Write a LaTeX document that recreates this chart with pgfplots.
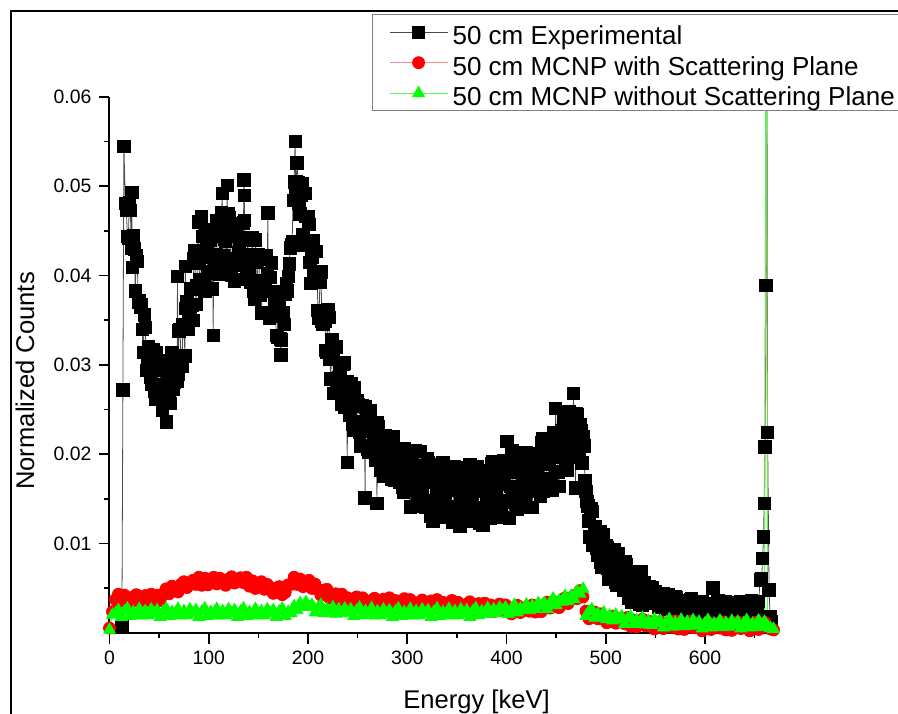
\documentclass[border=0pt]{standalone}
\usepackage{pgfplots}
\pgfplotsset{compat=1.18}
\usepackage{pgfplotstable}
\usepackage{fontspec}
\setmainfont{Liberation Sans}

\pgfplotstableread{
x y
12.5 0.0007
13.5 0.0272
14.5 0.0545
16 0.0481
17 0.0473
18 0.0444
19 0.0442
20 0.0482
21 0.0473
22 0.0431
22.5 0.0493
23 0.0409
24 0.0445
25 0.0430
26 0.0383
27 0.0422
28 0.0416
29 0.0370
30 0.0372
31 0.0365
32 0.0367
33 0.0340
34 0.0314
35 0.0356
36 0.0342
37 0.0294
38 0.0301
39 0.0320
40 0.0303
41 0.0286
42 0.0278
43 0.0300
44 0.0317
45 0.0270
46 0.0262
47 0.0314
48 0.0294
49 0.0272
50 0.0301
51 0.0296
52 0.0265
53 0.0249
54 0.0278
55 0.0297
56 0.0269
57 0.0273
57.5 0.0236
58 0.0305
59 0.0291
60 0.0259
61 0.0257
62 0.0298
63 0.0314
64 0.0273
65 0.0280
66 0.0300
67 0.0301
68 0.0282
68.5 0.0399
69 0.0289
70 0.0338
71 0.0340
72 0.0308
73 0.0298
74 0.0345
75 0.0344
76 0.0310
76.5 0.0410
77 0.0363
78 0.0371
79 0.0340
80 0.0356
81 0.0365
82 0.0385
83 0.0367
84 0.0350
85 0.0419
86 0.0428
87 0.0368
88 0.0389
89 0.0424
89.5 0.0460
90 0.0414
91 0.0396
92 0.0389
92.5 0.0466
93 0.0421
94 0.0444
95 0.0388
96 0.0382
97 0.0451
98 0.0429
99 0.0404
100 0.0443
101 0.0440
102 0.0403
103 0.0385
104 0.0424
104.5 0.0333
105 0.0452
106 0.0418
107 0.0423
108 0.0462
109 0.0444
110 0.0403
111 0.0401
112 0.0450
113 0.0470
113.5 0.0492
114 0.0417
115 0.0422
116 0.0441
117 0.0438
118 0.0407
118.5 0.0501
119 0.0412
120 0.0469
121 0.0465
122 0.0419
123 0.0400
124 0.0452
125 0.0444
126 0.0394
127 0.0455
128 0.0458
129 0.0412
130 0.0426
131 0.0429
132 0.0443
133 0.0419
134 0.0396
135 0.0459
135.5 0.0507
135.8 0.0490
136 0.0462
137 0.0396
138 0.0411
139 0.0440
140 0.0424
141 0.0403
142 0.0393
143 0.0422
144 0.0442
145 0.0383
146 0.0374
147 0.0440
148 0.0415
149 0.0387
150 0.0423
151 0.0418
152 0.0378
153 0.0358
154 0.0394
155 0.0420
156 0.0383
157 0.0386
158 0.0422
159 0.0402
159.5 0.0470
160 0.0358
161 0.0352
162 0.0398
163 0.0414
164 0.0358
165 0.0359
166 0.0374
167 0.0367
168 0.0333
169 0.0331
170 0.0382
171 0.0371
172 0.0329
172.5 0.0311
173 0.0328
174 0.0355
175 0.0359
176 0.0345
177 0.0379
178 0.0391
179 0.0383
180 0.0399
181 0.0413
182 0.0431
183 0.0435
184 0.0438
185 0.0484
186 0.0505
187 0.0550
187.5 0.0492
188 0.0505
189 0.0526
190 0.0504
191 0.0481
192 0.0469
193 0.0490
194 0.0503
195 0.0446
196 0.0434
197 0.0492
198 0.0466
199 0.0436
200 0.0466
201 0.0457
202 0.0415
203 0.0391
204 0.0420
205 0.0439
206 0.0401
207 0.0398
208 0.0427
209 0.0404
210 0.0361
211 0.0352
212 0.0393
213 0.0404
214 0.0349
215 0.0346
216 0.0357
217 0.0349
218 0.0316
219 0.0314
220 0.0362
221 0.0353
222 0.0306
223 0.0284
224 0.0328
225 0.0317
226 0.0268
227 0.0320
228 0.0320
229 0.0275
230 0.0285
231 0.0286
232 0.0295
233 0.0275
234 0.0256
235 0.0301
236 0.0302
237 0.0252
238 0.0261
239 0.0281
239.5 0.0191
240 0.0268
241 0.0252
242 0.0244
243 0.0264
244 0.0279
245 0.0234
246 0.0227
247 0.0275
248 0.0256
249 0.0234
250 0.0260
251 0.0255
252 0.0225
253 0.0209
254 0.0236
255 0.0254
256 0.0226
257 0.0227
257.5 0.0151
258 0.0253
259 0.0238
260 0.0205
261 0.0202
262 0.0236
263 0.0249
264 0.0208
265 0.0210
266 0.0222
267 0.0218
268 0.0193
269 0.0195
269.5 0.0145
270 0.0235
271 0.0231
272 0.0197
273 0.0182
274 0.0220
275 0.0212
276 0.0175
277 0.0219
278 0.0221
279 0.0186
280 0.0196
281 0.0198
282 0.0208
283 0.0189
284 0.0172
285 0.0218
286 0.0220
287 0.0171
288 0.0182
289 0.0203
290 0.0191
291 0.0176
292 0.0169
293 0.0191
294 0.0206
295 0.0163
296 0.0157
297 0.0206
298 0.0188
299 0.0168
300 0.0199
301 0.0195
302 0.0159
303 0.0141
304 0.0175
305 0.0199
306 0.0166
307 0.0169
308 0.0204
309 0.0185
310 0.0146
311 0.0142
312 0.0187
313 0.0203
314 0.0154
315 0.0157
316 0.0173
317 0.0169
318 0.0140
319 0.0143
320 0.0195
321 0.0191
322 0.0148
323 0.0130
324 0.0179
325 0.0171
326 0.0125
327 0.0181
328 0.0185
329 0.0142
330 0.0155
331 0.0158
332 0.0172
333 0.0151
334 0.0129
335 0.0188
336 0.0191
337 0.0132
338 0.0146
339 0.0173
340 0.0159
341 0.0141
342 0.0134
343 0.0162
344 0.0183
345 0.0131
346 0.0124
347 0.0186
348 0.0165
349 0.0140
350 0.0175
351 0.0172
352 0.0137
353 0.0119
354 0.0153
355 0.0178
356 0.0146
357 0.0150
358 0.0185
359 0.0167
360 0.0128
361 0.0125
362 0.0171
363 0.0188
364 0.0139
365 0.0143
366 0.0161
367 0.0158
368 0.0130
369 0.0133
370 0.0186
371 0.0182
372 0.0140
373 0.0123
374 0.0172
375 0.0165
376 0.0120
377 0.0176
378 0.0180
379 0.0138
380 0.0152
381 0.0155
382 0.0170
383 0.0149
384 0.0128
385 0.0189
386 0.0192
387 0.0132
388 0.0148
389 0.0176
390 0.0162
391 0.0145
392 0.0138
393 0.0166
394 0.0188
395 0.0136
396 0.0129
397 0.0193
398 0.0172
399 0.0148
400 0.0183
400.5 0.0214
401 0.0180
402 0.0146
403 0.0128
404 0.0164
405 0.0189
405.5 0.0204
406 0.0157
407 0.0162
408 0.0197
409 0.0180
410 0.0142
411 0.0138
412 0.0185
413 0.0202
414 0.0154
415 0.0158
416 0.0175
417 0.0172
418 0.0145
419 0.0149
420 0.0202
421 0.0199
422 0.0158
423 0.0140
424 0.0191
425 0.0185
426 0.0140
427 0.0196
428 0.0201
429 0.0160
430 0.0174
431 0.0178
432 0.0193
433 0.0173
434 0.0153
435 0.0213
436 0.0217
437 0.0158
438 0.0173
439 0.0202
440 0.0189
441 0.0172
442 0.0166
443 0.0195
444 0.0217
445 0.0166
446 0.0160
447 0.0224
448 0.0204
449 0.0180
449.5 0.0251
450 0.0216
451 0.0214
452 0.0180
453 0.0164
454 0.0200
455 0.0226
456 0.0196
457 0.0200
458 0.0237
459 0.0220
460 0.0183
461 0.0182
462 0.0229
463 0.0248
464 0.0201
465 0.0206
466 0.0225
467 0.0223
467.5 0.0268
468 0.0196
469 0.0200
469.5 0.0162
470 0.0245
471 0.0244
472 0.0215
473 0.0201
474 0.0233
475 0.0226
476 0.0190
477 0.0220
478 0.0209
479 0.0170
479.5 0.0162
480 0.0158
481 0.0147
482 0.0142
483 0.0125
484 0.0107
485 0.0139
486 0.0136
487 0.0098
488 0.0104
489 0.0119
490 0.0107
491 0.0095
492 0.0087
493 0.0102
494 0.0113
495 0.0079
496 0.0073
497 0.0110
498 0.0095
499 0.0079
500 0.0098
501 0.0095
502 0.0072
503 0.0060
504 0.0079
505 0.0093
506 0.0073
507 0.0073
508 0.0093
509 0.0081
510 0.0056
511 0.0053
512 0.0080
513 0.0089
514 0.0059
515 0.0059
516 0.0068
517 0.0065
518 0.0047
519 0.0048
520 0.0079
521 0.0076
522 0.0050
523 0.0038
524 0.0067
525 0.0062
526 0.0034
527 0.0067
528 0.0068
529 0.0042
530 0.0049
531 0.0050
532 0.0058
533 0.0045
534 0.0032
535 0.0067
536 0.0068
537 0.0031
538 0.0040
539 0.0056
540 0.0046
541 0.0040
542 0.0038
543 0.0045
544 0.0051
545 0.0035
546 0.0033
547 0.0050
548 0.0044
549 0.0036
550 0.0046
551 0.0044
552 0.0034
553 0.0028
554 0.0038
555 0.0044
556 0.0034
557 0.0035
558 0.0044
559 0.0039
560 0.0027
561 0.0026
562 0.0038
563 0.0043
564 0.0029
565 0.0029
566 0.0034
567 0.0033
568 0.0025
569 0.0025
570 0.0040
571 0.0039
572 0.0027
573 0.0021
574 0.0035
575 0.0033
576 0.0020
577 0.0036
578 0.0036
579 0.0024
580 0.0028
581 0.0029
582 0.0033
583 0.0027
584 0.0020
585 0.0037
586 0.0038
587 0.0021
588 0.0025
589 0.0033
590 0.0028
591 0.0023
592 0.0021
593 0.0029
594 0.0035
595 0.0020
596 0.0017
597 0.0035
598 0.0029
599 0.0022
600 0.0032
601 0.0031
602 0.0021
603 0.0016
604 0.0026
605 0.0033
606 0.0024
607 0.0025
608 0.0050
609 0.0030
610 0.0019
611 0.0018
612 0.0031
613 0.0036
614 0.0022
615 0.0023
616 0.0028
617 0.0027
618 0.0019
619 0.0020
620 0.0035
621 0.0034
622 0.0022
623 0.0017
624 0.0031
625 0.0029
626 0.0016
627 0.0032
628 0.0033
629 0.0021
630 0.0025
631 0.0025
632 0.0029
633 0.0023
634 0.0017
635 0.0034
636 0.0035
637 0.0018
638 0.0022
639 0.0030
640 0.0026
641 0.0021
642 0.0019
643 0.0028
644 0.0034
645 0.0019
646 0.0017
647 0.0036
648 0.0030
649 0.0023
650 0.0033
651 0.0034
652 0.0026
653 0.0023
654 0.0035
655.5 0.0059
657 0.0060
658 0.0083
659 0.0107
659.5 0.0145
660.5 0.0208
661.5 0.0389
662 0.0900
663 0.0224
664.5 0.0048
665.5 0.0018
667 0.0012
}\expdata

\pgfplotstableread{
x r g
0 0.0005 0.0003
3 0.00235 0.0020
6 0.0037 0.00215
9 0.0043 0.0025
12 0.00355 0.00175
15 0.0042 0.00235
18 0.0037 0.0027
21 0.0033 0.00185
24 0.0040 0.0023
27 0.00425 0.00205
30 0.00345 0.00265
33 0.0038 0.0019
36 0.00415 0.0024
39 0.0036 0.00195
42 0.0043 0.0026
45 0.0034 0.00215
48 0.0042 0.0025
51 0.0036 0.00175
54 0.00434 0.00235
57 0.0049 0.0027
60 0.00435 0.00185
63 0.0052 0.0023
66 0.0048 0.00205
69 0.00455 0.00265
72 0.0054 0.0019
75 0.0057 0.0024
78 0.00505 0.00195
81 0.0054 0.0026
84 0.00585 0.00215
87 0.0054 0.0025
90 0.0062 0.00175
93 0.0053 0.00235
96 0.0061 0.0027
99 0.00535 0.00185
102 0.0059 0.0023
105 0.0062 0.00205
108 0.00545 0.00265
111 0.0061 0.0019
114 0.0056 0.0024
117 0.0053 0.00195
120 0.0060 0.0026
123 0.00625 0.00215
126 0.00555 0.0025
129 0.0059 0.00175
132 0.00615 0.00235
135 0.0056 0.0027
138 0.0062 0.00185
141 0.0052 0.0023
144 0.0058 0.00205
147 0.00495 0.00265
150 0.0054 0.0019
153 0.0057 0.0024
156 0.00485 0.00195
159 0.0054 0.0026
162 0.0048 0.00215
165 0.0044 0.0025
168 0.0050 0.00175
171 0.00515 0.00235
174 0.00425 0.0027
177 0.0045 0.00185
180 0.00535 0.0023
183 0.0054 0.00215
186 0.0062 0.00295
189 0.0054 0.0025
192 0.0060 0.0033
195 0.00515 0.00285
198 0.0056 0.0034
201 0.00585 0.00285
204 0.00495 0.0031
207 0.00545 0.00225
210 0.0048 0.00275
213 0.0042 0.0031
216 0.00475 0.00215
219 0.00485 0.0026
222 0.00385 0.00235
225 0.0041 0.00285
228 0.00435 0.0021
231 0.0037 0.0026
234 0.0043 0.00215
237 0.0033 0.0027
240 0.0039 0.00225
243 0.00315 0.0026
246 0.0037 0.00185
249 0.0040 0.00245
252 0.00325 0.0028
255 0.0039 0.00195
258 0.0033 0.0024
261 0.0029 0.00215
264 0.0036 0.00275
267 0.00385 0.0019
270 0.00305 0.0024
273 0.0034 0.00195
276 0.00375 0.0026
279 0.0032 0.00215
282 0.0039 0.0025
285 0.0030 0.00175
288 0.0036 0.00235
291 0.00285 0.0027
294 0.0034 0.00185
297 0.0038 0.0023
300 0.00305 0.00205
303 0.0037 0.00265
306 0.0032 0.0019
309 0.0028 0.0024
312 0.0034 0.00195
315 0.00365 0.0026
318 0.00285 0.00215
321 0.0032 0.0025
324 0.00355 0.00175
327 0.0030 0.00235
330 0.0037 0.0027
333 0.0028 0.00185
336 0.0034 0.0023
339 0.00265 0.00205
342 0.0032 0.00265
345 0.0036 0.0019
348 0.00285 0.0024
351 0.0034 0.00195
354 0.0029 0.0026
357 0.0025 0.00215
360 0.0032 0.0025
363 0.00345 0.00175
366 0.00255 0.0024
369 0.0029 0.00275
372 0.00325 0.00195
375 0.0026 0.0024
378 0.0033 0.00215
381 0.0024 0.00275
384 0.0031 0.0021
387 0.00235 0.0026
390 0.0029 0.00215
393 0.0032 0.0028
396 0.00245 0.00245
399 0.0031 0.0028
402 0.0026 0.00205
405 0.0021 0.00265
408 0.0028 0.0031
411 0.00305 0.00225
414 0.00225 0.0027
417 0.0025 0.00255
420 0.00285 0.00315
423 0.0024 0.0025
426 0.0031 0.0030
429 0.0023 0.00265
432 0.0030 0.0033
435 0.00235 0.00295
438 0.0029 0.0033
441 0.0034 0.00265
444 0.00275 0.00335
447 0.0035 0.0038
450 0.0031 0.00305
453 0.0028 0.0036
456 0.0036 0.00345
459 0.0039 0.0041
462 0.00325 0.0035
465 0.0037 0.0041
468 0.00415 0.00375
471 0.0038 0.0046
474 0.0047 0.00435
477 0.0040 0.0049
480 0.0024 0.00185
483 0.00155 0.00235
486 0.0020 0.0026
489 0.0023 0.00165
492 0.00155 0.0021
495 0.0021 0.00175
498 0.0015 0.00225
501 0.0011 0.0015
504 0.0017 0.0019
507 0.00185 0.00135
510 0.00105 0.0020
513 0.0013 0.00145
516 0.00165 0.0018
519 0.0010 0.00095
522 0.0017 0.00155
525 0.0007 0.0018
528 0.0014 0.00095
531 0.00065 0.0014
534 0.0011 0.00105
537 0.0015 0.00165
540 0.00075 0.0009
543 0.0013 0.0013
546 0.0008 0.00085
549 0.0004 0.0015
552 0.0011 0.00105
555 0.00125 0.0013
558 0.00045 0.00055
561 0.0008 0.00115
564 0.00115 0.0015
567 0.0006 0.00065
570 0.0013 0.0011
573 0.0004 0.00085
576 0.0011 0.00145
579 0.00035 0.0007
582 0.0009 0.0012
585 0.0013 0.00075
588 0.00055 0.0014
591 0.0011 0.00085
594 0.0006 0.0012
597 0.0002 0.00045
600 0.0009 0.00105
603 0.00115 0.0014
606 0.00035 0.00055
609 0.0007 0.0010
612 0.00105 0.00075
615 0.0005 0.00135
618 0.0012 0.0006
621 0.0003 0.0011
624 0.0010 0.00065
627 0.00025 0.0013
630 0.0008 0.00085
633 0.0012 0.0012
636 0.00045 0.00045
639 0.0011 0.00105
642 0.0006 0.0014
645 0.0002 0.00055
648 0.0009 0.0010
651 0.00115 0.00075
654 0.00035 0.00135
657 0.0007 0.0006
660 0.00115 0.0012
661.5 0.0900 0.0900
663 0.0006 0.0007
666 0.0004 0.0005
669 0.0003 0.0004
}\mcnpdata

\begin{document}
\begin{tikzpicture}
\begin{axis}[
  at={(54.75pt,40.2pt)}, anchor=south west,
  scale only axis, width=332.75pt, height=267.8pt,
  xmin=0, xmax=670.5, ymin=0, ymax=0.06,
  axis lines*=left,
  axis line style={line width=1pt, black},
  tick align=outside,
  major tick length=5.5pt, minor tick length=2.5pt,
  every tick/.style={black, line width=0.8pt},
  xtick={0,100,200,300,400,500,600},
  minor xtick={50,150,250,350,450,550,650},
  ytick={0.01,0.02,0.03,0.04,0.05,0.06},
  minor ytick={0.005,0.015,0.025,0.035,0.045,0.055},
  scaled y ticks=false,
  y tick label style={/pgf/number format/fixed, /pgf/number format/precision=2, /pgf/number format/fixed zerofill},
  /pgf/number format/assume math mode=true,
  tick label style={font=\fontsize{9.7}{11}\selectfont},
  label style={font=\fontsize{12.8}{15}\selectfont},
  xlabel={Energy [keV]}, ylabel={Normalized Counts},
  xlabel style={at={(axis description cs:0.5515,-0.1408)}, anchor=base},
  ylabel style={at={(axis description cs:-0.127,0.47)}, anchor=center},
  legend style={at={(0.3944,1.155)}, anchor=north west, draw=gray, line width=0.6pt, fill=white,
    font=\fontsize{13}{15}\selectfont, inner xsep=6.5pt, inner ysep=1.125pt, row sep=0pt,
    nodes={inner xsep=2pt, inner ysep=0.3pt, text height=13.6pt, text depth=1.08pt},
    cells={anchor=west}},
  legend image code/.code={\path[draw=none,fill=none] (0pt,-2pt) rectangle (31.5pt,2pt); \draw[overlay,mark repeat=2,mark phase=2,#1] plot coordinates {(2pt,0pt) (16.5pt,0pt) (31pt,0pt)};},
  clip=true,
]
\addplot[color=gray!60!black, line width=0.4pt, mark=square*, mark size=3.1pt, mark options={solid, fill=black, draw=black}] table[x=x,y=y]{\expdata};
\addlegendentry{50 cm Experimental}
\addplot[color=red!45, line width=0.4pt, mark=*, mark size=3.0pt, mark options={solid, fill=red, draw=red}] table[x=x,y=r]{\mcnpdata};
\addlegendentry{50 cm MCNP with Scattering Plane}
\addplot[color=green!70, line width=0.4pt, mark=triangle*, mark size=3.4pt, mark options={solid, fill=green, draw=green}] table[x=x,y=g]{\mcnpdata};
\addlegendentry{50 cm MCNP without Scattering Plane}
\end{axis}
\draw[line width=1pt] (5.5pt,-10pt) -- (5.5pt,351pt) -- (470pt,351pt);
\pgfresetboundingbox
\path[use as bounding box] (0,0) rectangle (449pt,356.5pt);
\end{tikzpicture}
\end{document}
